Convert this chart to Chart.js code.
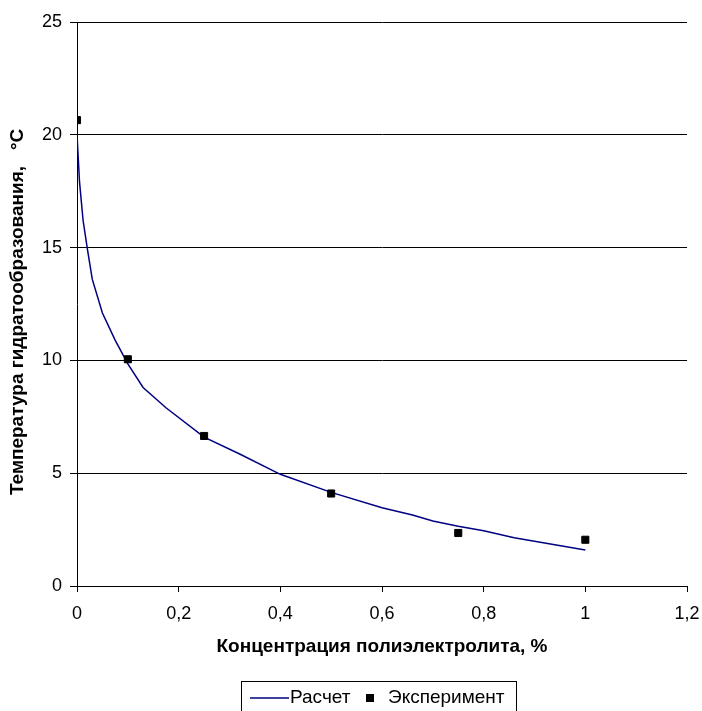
<!DOCTYPE html>
<html>
<head>
<meta charset="utf-8">
<script src="https://cdn.jsdelivr.net/npm/chart.js@4/dist/chart.umd.min.js"></script>
<style>
  html, body { margin: 0; padding: 0; background: #fff; }
  #wrap { width: 702px; height: 711px; position: relative; }
</style>
</head>
<body>
<div id="wrap"><canvas id="chart"></canvas></div>
<script>
// Calculated curve (Расчет)
const calcX = [0, 0.005, 0.012, 0.02, 0.03, 0.05, 0.075, 0.1, 0.13, 0.175, 0.25, 0.32, 0.4, 0.5, 0.6, 0.66, 0.7, 0.75, 0.8, 0.86, 1.0];
const calcY = [20.0, 17.9, 16.2, 15.0, 13.6, 12.1, 10.9, 9.85, 8.8, 7.9, 6.6, 5.85, 4.95, 4.15, 3.47, 3.15, 2.88, 2.65, 2.45, 2.14, 1.6];

// Experimental points (Эксперимент)
const expX = [0, 0.1, 0.25, 0.5, 0.75, 1.0];
const expY = [20.65, 10.05, 6.65, 4.1, 2.35, 2.05];

const xTicks = [0, 0.2, 0.4, 0.6, 0.8, 1, 1.2];
const yTicks = [0, 5, 10, 15, 20, 25];

const seriesNames = ['Расчет', 'Эксперимент'];
const xTitle = 'Концентрация полиэлектролита, %';
const yTitle = 'Температура гидратообразования,   °С\u00a0\u00a0\u00a0';

const FONT = 'Arial, "Liberation Sans", sans-serif';
const lineColor = '#000080';

// Excel-style legend drawn in a framed box under the axis title
const boxedLegend = {
    id: 'boxedLegend',
    afterDraw(chart) {
        const ctx = chart.ctx;
        const left = 241.5, top = 681.5, right = 516.5, bottom = 712;
        const cy = 698;
        ctx.save();
        ctx.strokeStyle = '#000';
        ctx.lineWidth = 1;
        ctx.strokeRect(left, top, right - left, bottom - top);

        ctx.strokeStyle = lineColor;
        ctx.lineWidth = 1.5;
        ctx.beginPath();
        ctx.moveTo(250, cy);
        ctx.lineTo(289, cy);
        ctx.stroke();

        ctx.fillStyle = '#000';
        ctx.fillRect(366, cy - 4, 8, 8);

        ctx.font = '19px ' + FONT;
        ctx.textBaseline = 'middle';
        ctx.textAlign = 'left';
        ctx.fillText(seriesNames[0], 290, cy);
        ctx.fillText(seriesNames[1], 388, cy);
        ctx.restore();
    }
};

const ctx = document.getElementById('chart').getContext('2d');
const chart = new Chart(ctx, {
    type: 'scatter',
    data: {
        datasets: [{
            label: seriesNames[0],
            data: calcX.map((x, i) => ({ x: x, y: calcY[i] })),
            showLine: true,
            borderColor: lineColor,
            borderWidth: 1.5,
            pointRadius: 0,
            tension: 0,
            order: 2
        }, {
            label: seriesNames[1],
            data: expX.map((x, i) => ({ x: x, y: expY[i] })),
            showLine: false,
            pointStyle: 'rect',
            pointRadius: 5,
            backgroundColor: '#000',
            borderColor: '#000',
            borderWidth: 1,
            order: 1
        }]
    },
    options: {
        responsive: true,
        maintainAspectRatio: false,
        animation: false,
        layout: {
            padding: { left: 0, top: 22, right: 15, bottom: 0 }
        },
        scales: {
            x: {
                type: 'linear',
                min: 0,
                max: 1.2,
                afterBuildTicks: scale => {
                    scale.ticks = xTicks.map(v => ({ value: v }));
                },
                afterFit: scale => {
                    scale.height = 125;
                    scale.paddingLeft = 0;
                    scale.paddingRight = 0;
                },
                grid: {
                    drawOnChartArea: false,
                    drawTicks: true,
                    tickLength: 6,
                    color: '#000'
                },
                border: { display: true, color: '#000', width: 1 },
                ticks: {
                    color: '#000',
                    padding: 11,
                    maxRotation: 0,
                    font: { family: FONT, size: 18 },
                    callback: v => String(v).replace('.', ',')
                },
                title: {
                    display: true,
                    text: xTitle,
                    color: '#000',
                    padding: { top: 0, bottom: 53 },
                    font: { family: FONT, size: 19, weight: 'bold' }
                }
            },
            y: {
                type: 'linear',
                min: 0,
                max: 25,
                afterBuildTicks: scale => {
                    scale.ticks = yTicks.map(v => ({ value: v }));
                },
                afterFit: scale => { scale.width = 77; },
                grid: {
                    drawOnChartArea: true,
                    drawTicks: true,
                    tickLength: 7,
                    color: '#000',
                    lineWidth: 1
                },
                border: { display: true, color: '#000', width: 1 },
                ticks: {
                    color: '#000',
                    padding: 8,
                    font: { family: FONT, size: 18 }
                },
                title: {
                    display: true,
                    text: yTitle,
                    color: '#000',
                    padding: { top: 6, bottom: 0 },
                    font: { family: FONT, size: 19, weight: 'bold' }
                }
            }
        },
        plugins: {
            legend: { display: false },
            tooltip: { enabled: false }
        }
    },
    plugins: [boxedLegend]
});
</script>
</body>
</html>
